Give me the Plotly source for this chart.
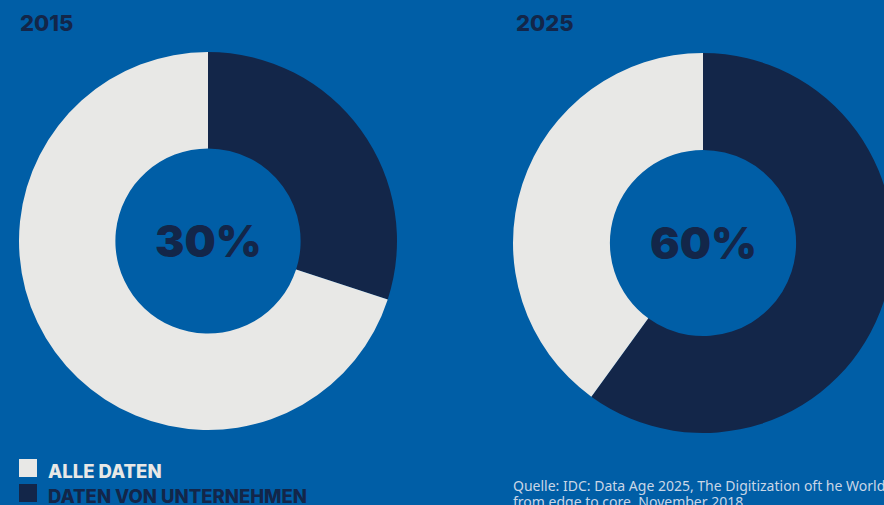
import plotly.graph_objects as go

years = ["2015", "2025"]
categories = ["DATEN VON UNTERNEHMEN", "ALLE DATEN"]
company_share = [30, 60]
center_labels = ["30%", "60%"]
source_lines = ["Quelle: IDC: Data Age 2025, The Digitization oft he World",
                "from edge to core, November 2018."]

BG = "#005ea6"
DARK = "#132649"
LIGHT = "#e8e8e6"
W, H = 900, 505

def px(x):
    return x / W

def py(y):
    return 1 - y / H

fig = go.Figure()
# donut pixel boxes (center x, center y, radius)
boxes = [(208, 241, 189), (703, 243, 190)]
for i, (yr, share) in enumerate(zip(years, company_share)):
    cx, cy, r = boxes[i]
    fig.add_trace(go.Pie(
        labels=categories,
        values=[share, 100 - share],
        hole=0.49,
        sort=False,
        direction="clockwise",
        rotation=0,
        marker=dict(colors=[DARK, LIGHT], line=dict(width=0)),
        textinfo="none",
        hoverinfo="label+percent",
        showlegend=False,
        domain=dict(x=[px(cx - r), px(cx + r)], y=[py(cy + r), py(cy - r)]),
    ))
    fig.add_annotation(x=px(cx), y=py(cy), xref="paper", yref="paper",
                       text=center_labels[i], showarrow=False,
                       font=dict(family="Inter", size=44, color=DARK, weight=900),
                       xanchor="center", yanchor="middle")

# titles
fig.add_annotation(x=px(18), y=py(23), xref="paper", yref="paper", text=years[0],
                   showarrow=False, xanchor="left", yanchor="middle",
                   font=dict(family="Inter", size=22, color=DARK, weight=800))
fig.add_annotation(x=px(514), y=py(23), xref="paper", yref="paper", text=years[1],
                   showarrow=False, xanchor="left", yanchor="middle",
                   font=dict(family="Inter", size=22, color=DARK, weight=800))

# legend (custom)
leg_colors = [LIGHT, DARK]
leg_labels = [categories[1], categories[0]]
leg_y = [468, 493]
for c, lab, yy in zip(leg_colors, leg_labels, leg_y):
    fig.add_shape(type="rect", xref="paper", yref="paper",
                  x0=px(19), x1=px(37), y0=py(yy + 9), y1=py(yy - 9),
                  fillcolor=c, line=dict(width=0))
    fig.add_annotation(x=px(46), y=py(yy + 3), xref="paper", yref="paper", text=lab,
                       showarrow=False, xanchor="left", yanchor="middle",
                       font=dict(family="Inter", size=18.5, color=c, weight=800))

# source
for line, yy in zip(source_lines, [485, 501]):
    fig.add_annotation(x=px(511), y=py(yy), xref="paper", yref="paper",
                       text=line, showarrow=False,
                       xanchor="left", yanchor="middle", align="left",
                       font=dict(family="Noto Sans", size=14, color="#c9d6e6"))

fig.update_layout(width=W, height=H, margin=dict(l=0, r=0, t=0, b=0),
                  paper_bgcolor=BG, plot_bgcolor=BG)

fig.write_html("out.html",
               post_script="document.documentElement.style.overflow='hidden';document.body.style.overflow='hidden';")
